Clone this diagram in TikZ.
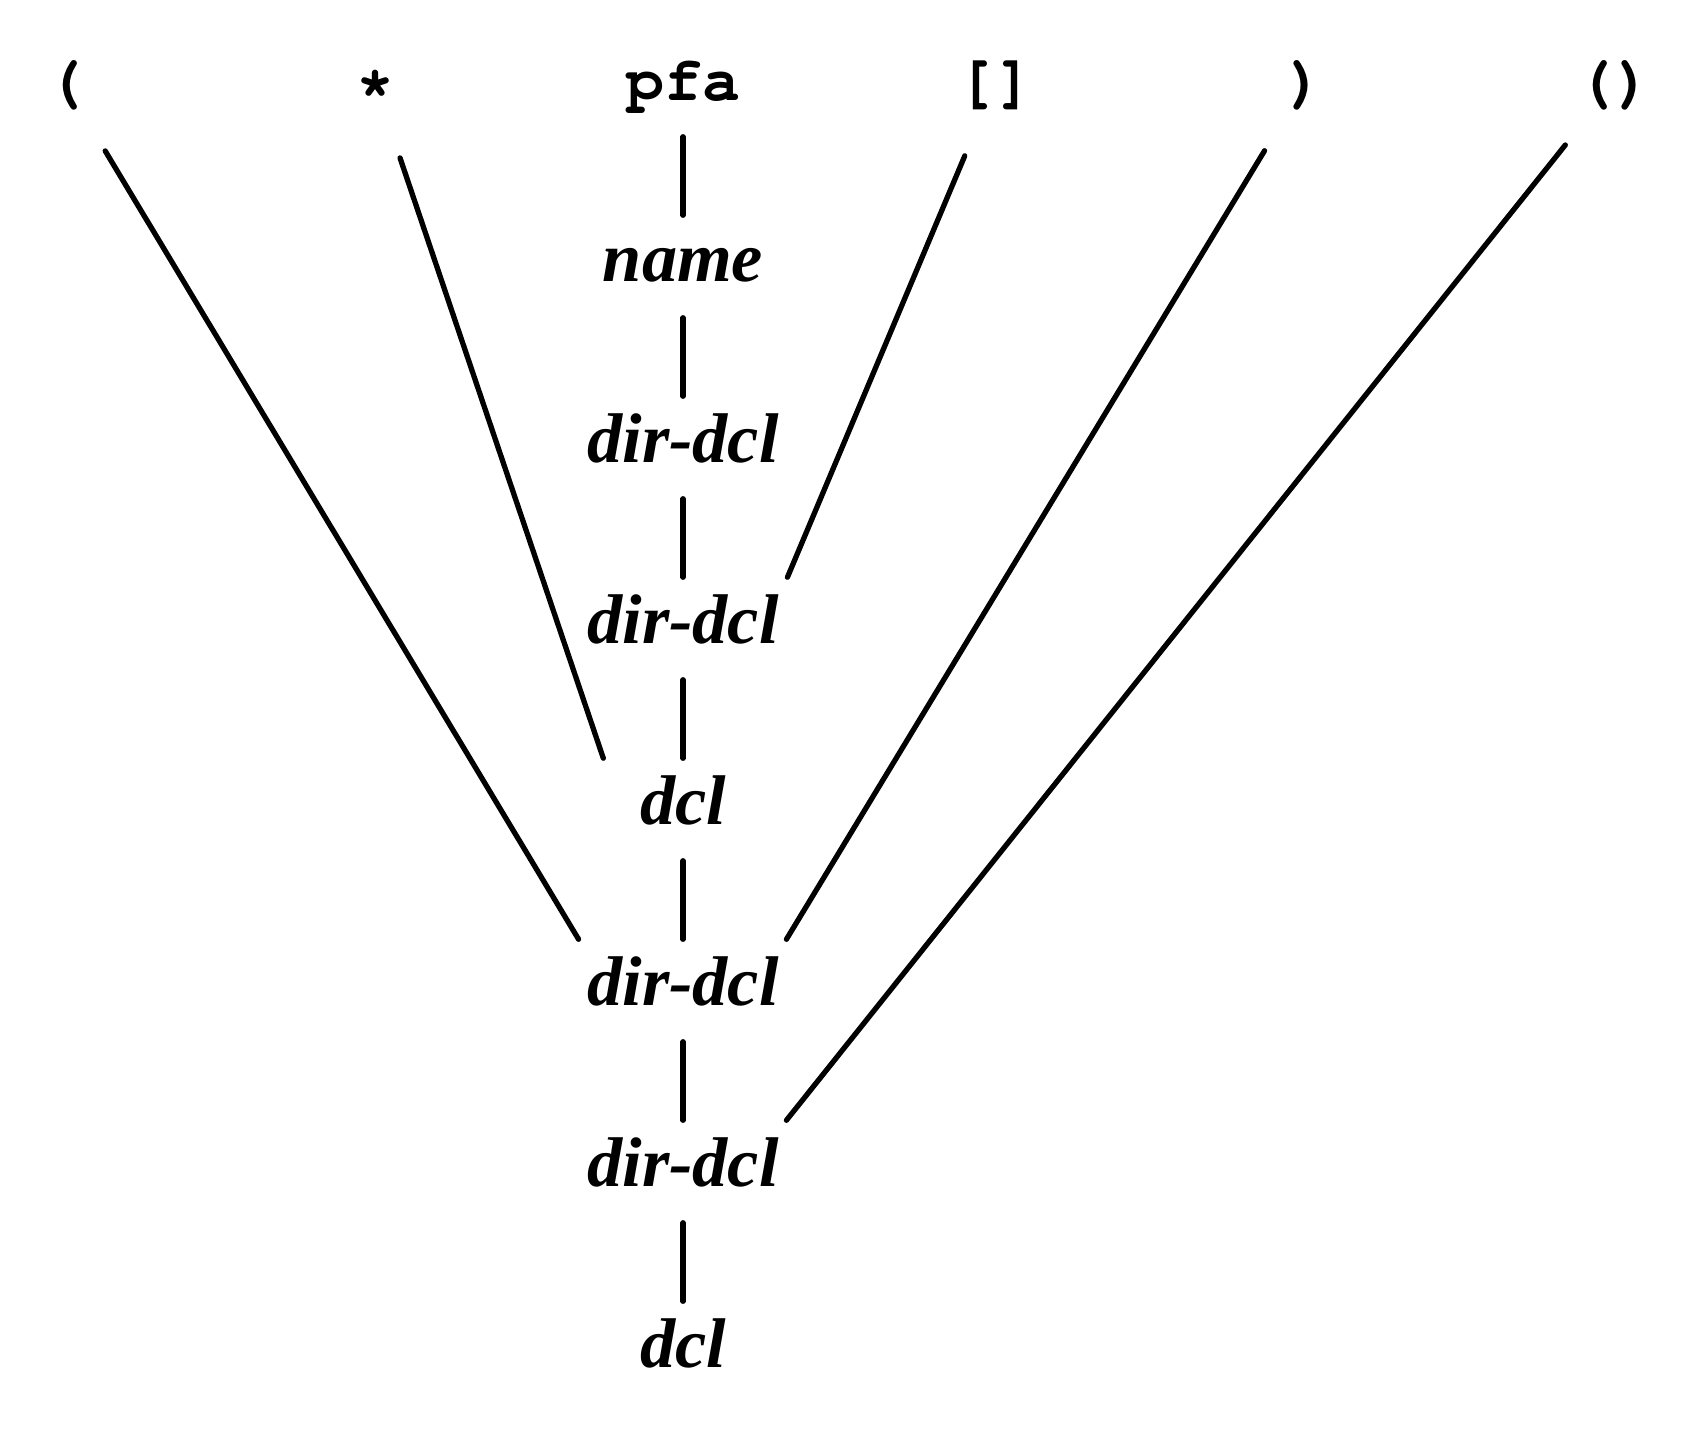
\documentclass[tikz,border=0pt]{standalone}
\usepackage[T1]{fontenc}
\usepackage{fontspec}
\setmainfont{Liberation Serif}
\newcommand{\codefont}{\fontencoding{T1}\fontfamily{pcr}\fontseries{b}\selectfont}

\begin{document}
\begin{tikzpicture}[x=0.01cm,y=-0.01cm,
  tok/.style={font=\codefont\fontsize{18}{20}\selectfont, inner sep=0pt, anchor=base, text height=0.68cm, text depth=0.36cm},
  cat/.style={font=\bfseries\itshape\fontsize{20}{24}\selectfont, inner sep=0pt, anchor=base, text height=0.65cm, text depth=0.36cm},
  link/.style={line width=1.5pt, line cap=round}]
  \useasboundingbox (0,0) rectangle (1698,1430);

  % tokens
  \node[tok] (lp)   at (65,100)   {(};
  \node[tok] (star) at (375,100)  {*};
  \node[tok] (pfa)  at (683,100)  {pfa};
  \node[tok] (sub)  at (995,100)  {[]};
  \node[tok] (rp)   at (1305,100) {)};
  \node[tok] (call) at (1614,100) {()};

  % parse column
  \node[cat] (name) at (683,281)  {name};
  \node[cat] (dd1)  at (683,462)  {dir-dcl};
  \node[cat] (dd2)  at (683,643)  {dir-dcl};
  \node[cat] (dcl1) at (683,824)  {dcl};
  \node[cat] (dd3)  at (683,1005) {dir-dcl};
  \node[cat] (dd4)  at (683,1186) {dir-dcl};
  \node[cat] (dcl2) at (683,1367) {dcl};

  \foreach \a/\b in {pfa/name, name/dd1, dd1/dd2, dd2/dcl1, dcl1/dd3, dd3/dd4, dd4/dcl2}
    \draw[link] (\a) -- (\b);

  \draw[link, shorten <=0.78cm] (lp.center) -- ([xshift=-0.08cm]dd3.north west);
  \draw[link, shorten <=0.78cm] (star.center) -- ([xshift=-0.36cm]dcl1.north west);
  \draw[link, shorten <=0.78cm] (sub.center) -- ([xshift=0.08cm]dd2.north east);
  \draw[link, shorten <=0.78cm] (rp.center) -- ([xshift=0.07cm]dd3.north east);
  \draw[link, shorten <=0.78cm] (call.center) -- ([xshift=0.07cm]dd4.north east);
\end{tikzpicture}
\end{document}
